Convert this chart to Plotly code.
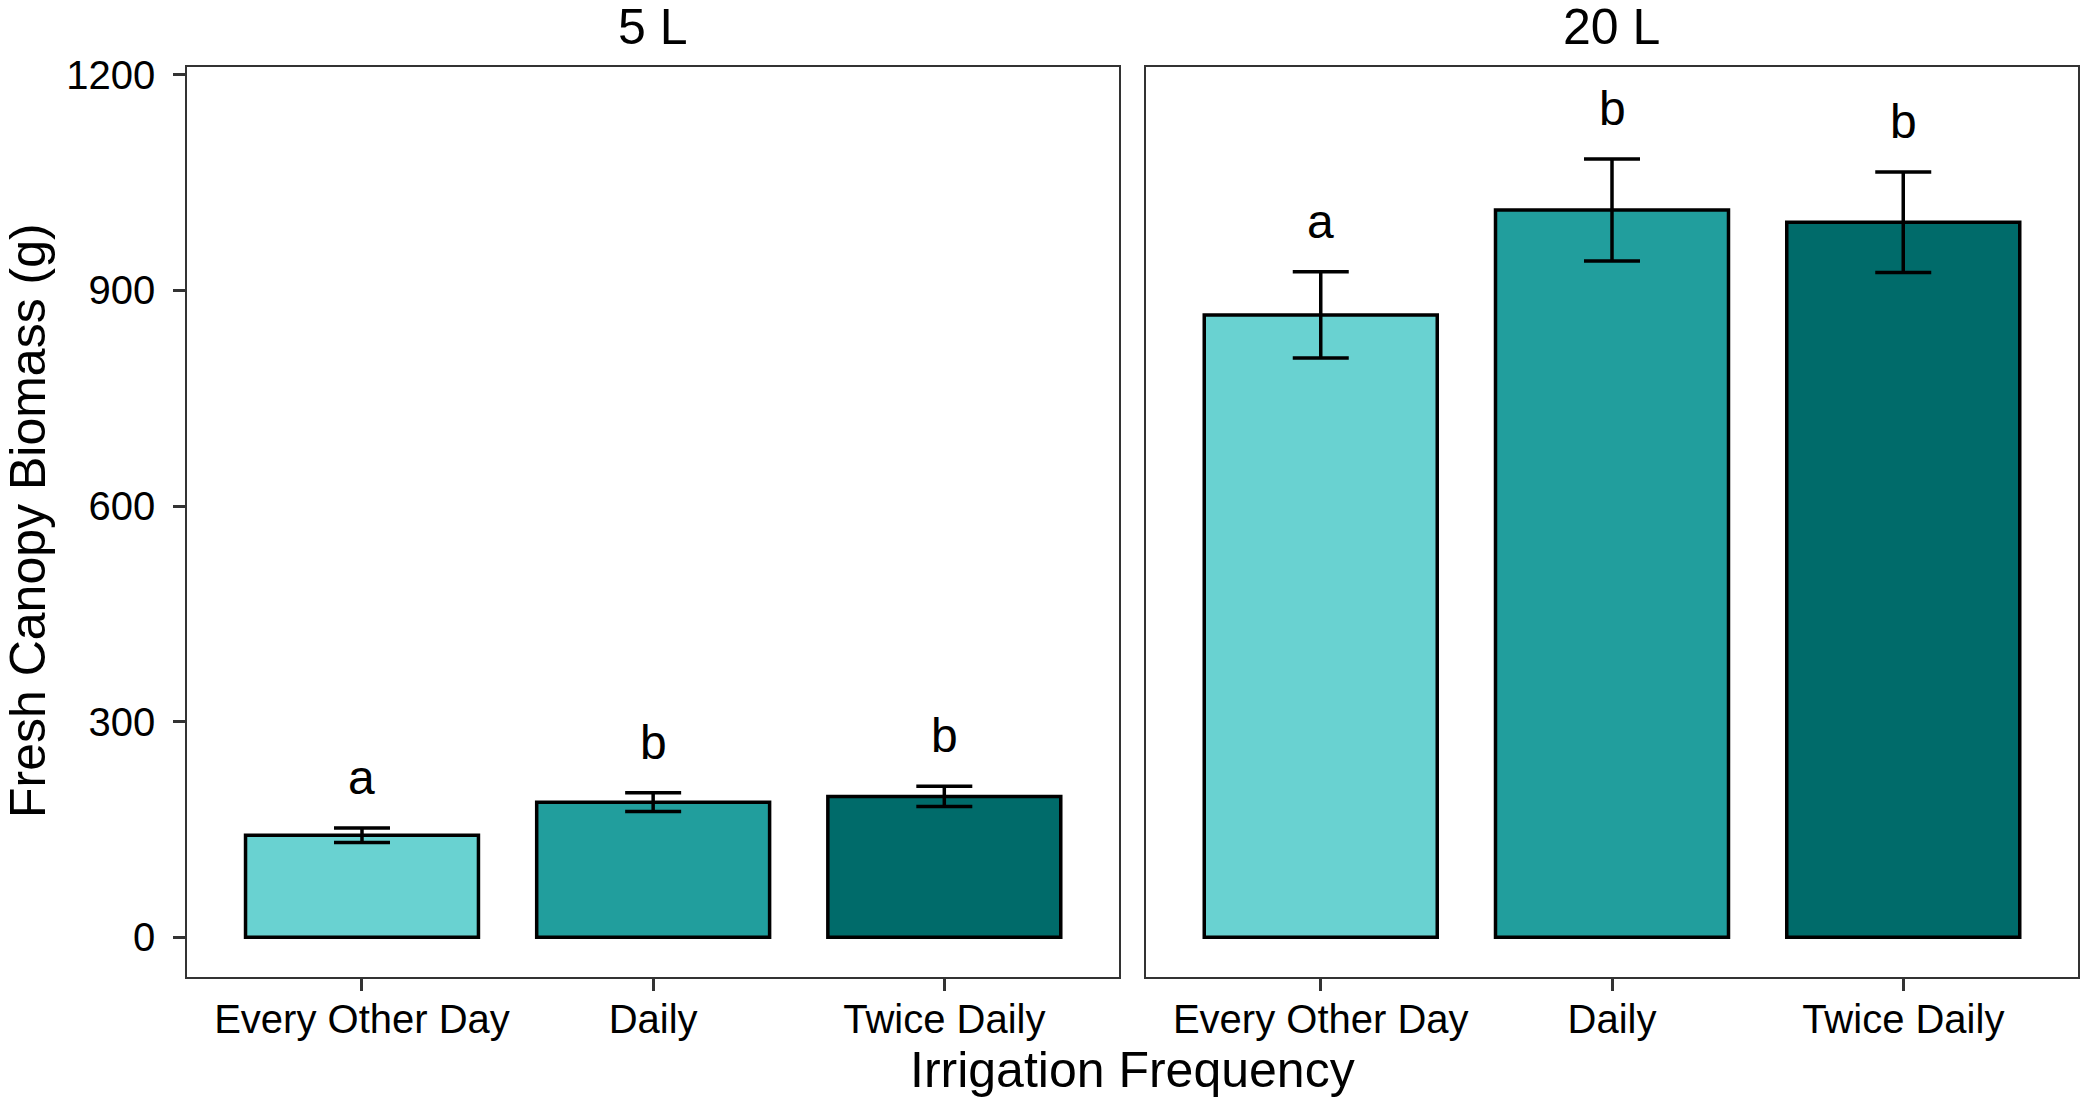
import plotly.graph_objs as go
from plotly.subplots import make_subplots

# data (mean +/- SE)
frequency = ['Every Other Day', 'Daily', 'Twice Daily']
volumes = ['5 L', '20 L']
biomass_5L = [142, 188, 196]
se_5L = [10, 13, 14]
biomass_20L = [866, 1012, 995]
se_20L = [60, 71, 70]
letters_5L = ['a', 'b', 'b']
letters_20L = ['a', 'b', 'b']
y_ticks = [0, 300, 600, 900, 1200]

colors = ['#69D2D1', '#219E9D', '#006B6A']
font_family = 'Liberation Sans, Arial, Helvetica, sans-serif'
W, H = 2085, 1104

fig = make_subplots(rows=1, cols=2, shared_yaxes=False, horizontal_spacing=0.013)

panels = [(biomass_5L, se_5L, letters_5L), (biomass_20L, se_20L, letters_20L)]
for i, (vals, errs, lets) in enumerate(panels):
    fig.add_trace(go.Bar(x=frequency, y=vals, width=0.8,
                         marker=dict(color=colors, line=dict(color='black', width=3.5)),
                         error_y=dict(type='data', array=errs, visible=True, color='black',
                                      thickness=3.5, width=28),
                         showlegend=False, hoverinfo='skip'), row=1, col=i + 1)
    xref = 'x' if i == 0 else 'x2'
    yref = 'y' if i == 0 else 'y2'
    for cat, v, e, l in zip(frequency, vals, errs, lets):
        fig.add_annotation(x=cat, y=v + e, xref=xref, yref=yref, text=l, showarrow=False,
                           yanchor='bottom', yshift=22, font=dict(size=48, color='black'))

# panel placement (pixels -> paper)
left = [187.3 / W, 1119 / W]
right = [1146 / W, 2078 / W]
ydom = [1 - 977.3 / H, 1 - 66.7 / H]

axis_common = dict(showline=True, mirror=True, linecolor='#333333', linewidth=2,
                   showgrid=False, zeroline=False, ticks='outside', ticklen=12,
                   tickwidth=3, tickcolor='#333333', automargin=False,
                   tickfont=dict(size=40, color='black', family=font_family))
fig.update_xaxes(**axis_common, range=[-0.6, 2.6], type='category', ticklabelstandoff=-6)
fig.update_yaxes(**axis_common, range=[-55.7, 1211.4], tickvals=y_ticks)
fig.update_layout(xaxis=dict(domain=left), xaxis2=dict(domain=right),
                  yaxis=dict(domain=ydom, ticklabelstandoff=10),
                  yaxis2=dict(domain=ydom, showticklabels=False, ticks=''))

# facet strip labels
for vol, dom in zip(volumes, [left, right]):
    fig.add_annotation(x=(dom[0] + dom[1]) / 2, y=1 - 26.6 / H, xref='paper', yref='paper',
                       text=vol, showarrow=False, xanchor='center', yanchor='middle',
                       font=dict(size=50, color='black'))

fig.add_annotation(x=28 / W, y=1 - 521 / H, xref='paper', yref='paper', textangle=-90,
                   text='Fresh Canopy Biomass (g)', showarrow=False,
                   xanchor='center', yanchor='middle',
                   font=dict(size=50, color='black'))
fig.add_annotation(x=(left[0] + right[1]) / 2, y=1 - 1070 / H, xref='paper', yref='paper',
                   text='Irrigation Frequency', showarrow=False,
                   xanchor='center', yanchor='middle',
                   font=dict(size=50, color='black'))

fig.update_layout(width=W, height=H, margin=dict(l=0, r=0, t=0, b=0),
                  plot_bgcolor='white', paper_bgcolor='white',
                  font=dict(family=font_family, color='black'))

fig.write_html("out.html", config={'displayModeBar': False},
               post_script="document.body.style.margin='0';")
